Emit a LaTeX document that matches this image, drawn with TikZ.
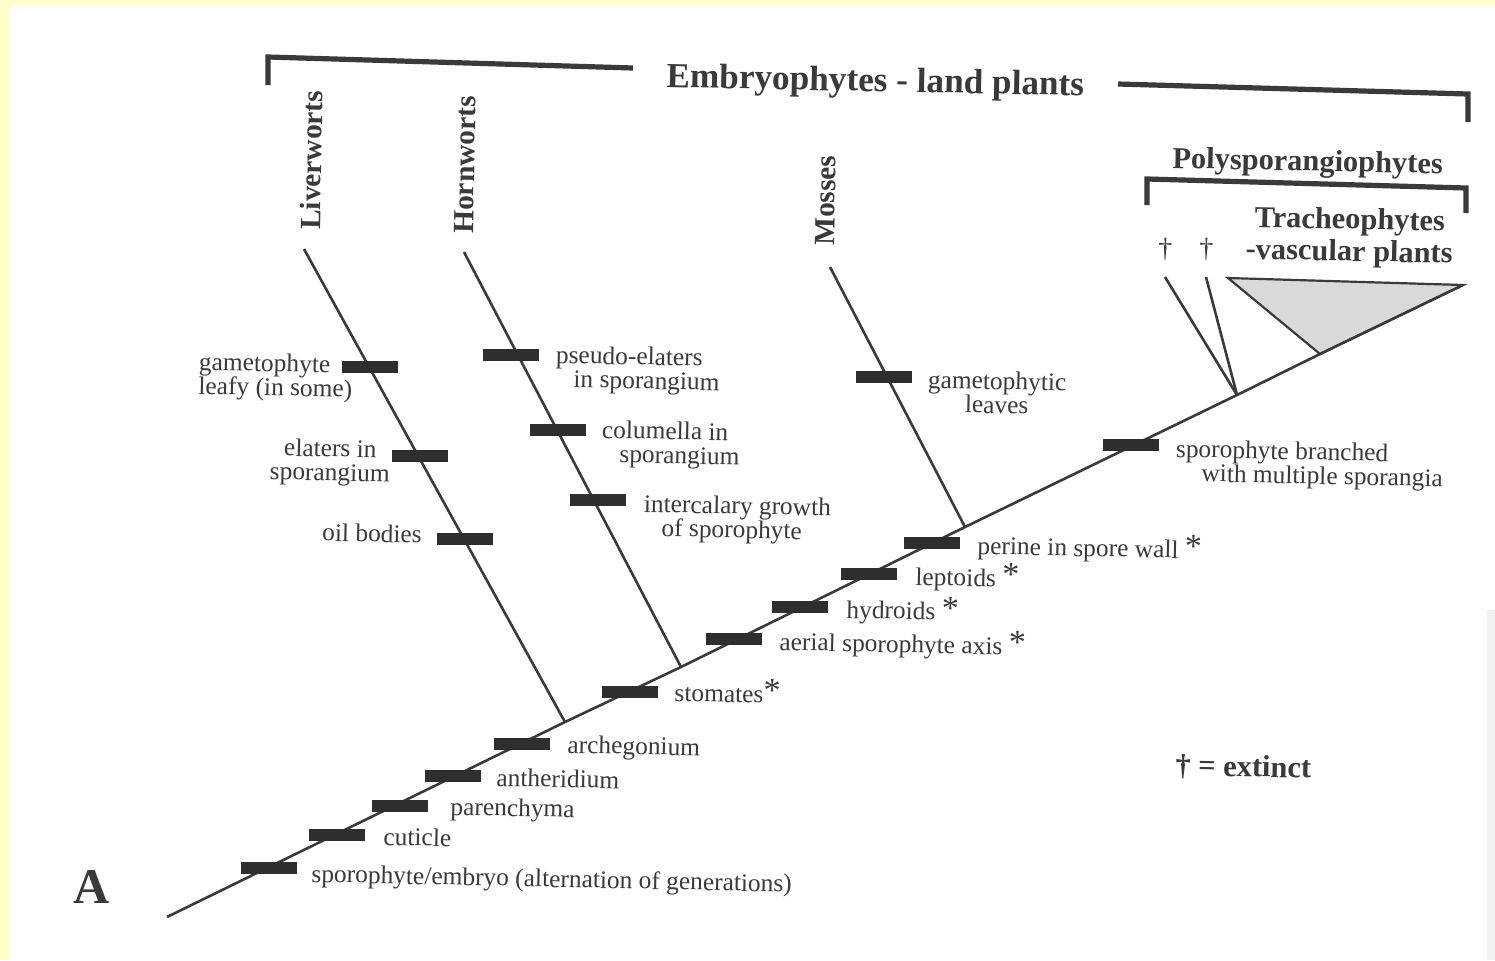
\documentclass[tikz,border=0pt]{standalone}
\usepackage{fontspec}
\setmainfont{Liberation Serif}
\usetikzlibrary{positioning}

\definecolor{paper}{RGB}{255,255,204}
\definecolor{ink}{RGB}{58,58,58}
\newcommand{\apo}{\raisebox{0.5pt}{\fontsize{17}{17}\selectfont *}}

\begin{document}
\begin{tikzpicture}[x=0.5pt,y=-0.5pt,
    stem/.style={draw=ink, line width=1.3pt},
    bracket/.style={draw=ink, line width=2.6pt, line join=miter},
    synbar/.style={fill=black!82, minimum width=28pt, minimum height=6pt, inner sep=0pt},
    trait/.style={font=\fontsize{12.7}{12}\selectfont, text=ink, inner sep=0pt, anchor=base west, rotate=-1.2},
    clade/.style={font=\fontsize{14.7}{15}\selectfont\bfseries, text=ink, inner sep=0pt, anchor=base west, rotate=88.8},
    group/.style={font=\fontsize{15.2}{15}\selectfont\bfseries, text=ink, inner sep=0pt, anchor=base west, rotate=-1.2}]
    % paper
    \fill[paper] (0,0) rectangle (1495,960);
    \fill[white] (10,6) rectangle (1495,960);
    \fill[black!5] (1487,610) rectangle (1495,960);
    \useasboundingbox (0,0) rectangle (1495,960);
    % points of the tree
    \coordinate (root) at (167,917);
    \coordinate (jL)   at (565,722);
    \coordinate (jH)   at (681,667);
    \coordinate (jM)   at (965,527);
    \coordinate (jP)   at (1237,395);
    \coordinate (jT)   at (1320,354);
    \coordinate (tip)  at (1463,285);
    \coordinate (tL)   at (304,249);
    \coordinate (tH)   at (464,252);
    \coordinate (tM)   at (830,267);
    \coordinate (tE1)  at (1165,277);
    \coordinate (tE2)  at (1206,277);
    \coordinate (tT)   at (1228,278);
    % lines
    \filldraw[fill=black!15, draw=ink, line width=1.1pt, line join=miter] (jT) -- (tT) -- (tip) -- cycle;
    \draw[stem] (root) -- (jL) -- (jH) -- (jM) -- (jP) -- (jT) -- (tip);
    \draw[stem] (jL) -- (tL);
    \draw[stem] (jH) -- (tH);
    \draw[stem] (jM) -- (tM);
    \draw[stem] (jP) -- (tE1);
    \draw[stem] (jP) -- (tE2);
    % characters on the stem
    \node[synbar] (b1)  at (269,868) {};
    \node[synbar] (b2)  at (337,835) {};
    \node[synbar] (b3)  at (400,806) {};
    \node[synbar] (b4)  at (453,776) {};
    \node[synbar] (b5)  at (522,744) {};
    \node[synbar] (b6)  at (630,692) {};
    \node[synbar] (b7)  at (734,639) {};
    \node[synbar] (b8)  at (800,607) {};
    \node[synbar] (b9)  at (869,574) {};
    \node[synbar] (b10) at (932,543) {};
    \node[synbar] (b11) at (1131,445) {};
    \node[trait] (tSpo) at (311,882) {sporophyte/embryo (alternation of generations)};
    \node[trait] (tCut) at (383,845) {cuticle};
    \node[trait] (tPar) at (450,815) {parenchyma};
    \node[trait] (tAnt) at (496,786) {antheridium};
    \node[trait] (tArc) at (567,753) {archegonium};
    \node[trait] (tSto) at (674,701) {stomates\apo};
    \node[trait] (tAer) at (779,650) {aerial sporophyte axis \apo};
    \node[trait] (tHyd) at (846,618) {hydroids \apo};
    \node[trait] (tLep) at (915,585) {leptoids \apo};
    \node[trait] (tPer) at (977,554) {perine in spore wall \apo};
    \node[trait, align=left] (tBra) at (1175,481) {sporophyte branched\\\hspace*{13pt}with multiple sporangia};
    % liverworts
    \node[synbar] (bL1) at (370,367) {};
    \node[synbar] (bL2) at (420,456) {};
    \node[synbar] (bL3) at (465,539) {};
    \node[trait, align=left] (tGam) at (198,394) {gametophyte\\leafy (in some)};
    \node[trait, align=center, anchor=base east] (tEla) at (390,482) {elaters in\\sporangium};
    \node[trait, anchor=base east] (tOil) at (422,543) {oil bodies};
    % hornworts
    \node[synbar] (bH1) at (511,355) {};
    \node[synbar] (bH2) at (558,430) {};
    \node[synbar] (bH3) at (598,500) {};
    \node[trait, align=left] (tPse) at (555,387) {pseudo-elaters\\\hspace*{9pt}in sporangium};
    \node[trait, align=left] (tCol) at (601,462) {columella in\\\hspace*{9pt}sporangium};
    \node[trait, align=left] (tInt) at (643,536) {intercalary growth\\\hspace*{9pt}of sporophyte};
    % mosses
    \node[synbar] (bM1) at (884,377) {};
    \node[trait, align=center] (tLea) at (927,412) {gametophytic\\leaves};
    % clade names
    \node[clade] (cLiv) at (320,230) {Liverworts};
    \node[clade] (cHor) at (473,234) {Hornworts};
    \node[clade] (cMos) at (834,246) {Mosses};
    \node[trait, font=\fontsize{14}{14}\selectfont] (d1) [above=8pt of tE1, anchor=south] {\textdagger};
    \node[trait, font=\fontsize{14}{14}\selectfont] (d2) [above=8pt of tE2, anchor=south] {\textdagger};
    \node[group, align=center, anchor=base] (trach) at (1349,261) {Tracheophytes\\[1pt]-vascular plants};
    % brackets
    \node[group, font=\fontsize{17.6}{18}\selectfont\bfseries] (emb) at (666,87) {Embryophytes - land plants};
    \draw[bracket] (268,85) -- (268,57) -- (633,68);
    \draw[bracket] (1118,84) -- (1468,94) -- (1468,122);
    \node[group] (poly) at (1172,168) {Polysporangiophytes};
    \draw[bracket] (1147,205) -- (1147,179) -- (1466,188) -- (1466,213);
    % key
    \node[group] (ext) at (1175,775) {\textdagger{} = extinct};
    \node[group, font=\fontsize{25}{25}\selectfont\bfseries, rotate=1.2] (fig) at (73,903) {A};
\end{tikzpicture}
\end{document}
